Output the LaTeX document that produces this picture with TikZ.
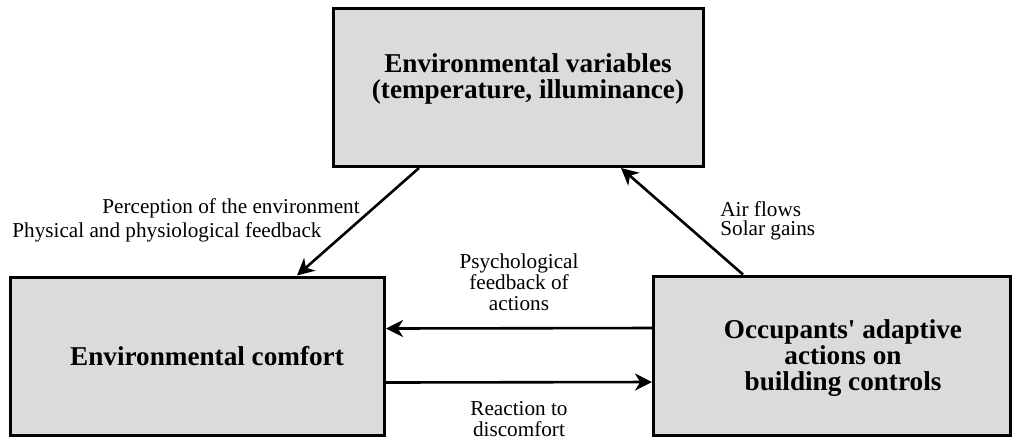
\documentclass[tikz,border=0pt]{standalone}
\usepackage{fontspec}
\setmainfont{Liberation Serif}
\usepackage{tikz}
\usetikzlibrary{arrows.meta}

\definecolor{boxgray}{RGB}{218,219,221}

\begin{document}
\begin{tikzpicture}[x=0.5pt, y=-0.5pt,
  box/.style={draw=black, fill=boxgray, line width=1.5pt, inner sep=0pt},
  boxtext/.style={font=\fontsize{13.6}{12.8}\selectfont\bfseries, align=center, inner sep=0pt},
  lbl/.style={font=\fontsize{10.6}{10.4}\selectfont, inner sep=0pt},
  arr/.style={-{Stealth[length=8.5pt, width=8.5pt, inset=2.6pt]}, line width=1.3pt}]

\useasboundingbox (0,0) rectangle (1016,441);

% the three boxes
\node[box, minimum width=185pt, minimum height=79pt] (varbox) at (518.5,87.5) {};
\node[box, minimum width=187pt, minimum height=79pt] (comfbox) at (197.5,356) {};
\node[box, minimum width=178.5pt, minimum height=79.5pt] (actbox) at (832,355.5) {};

\node[boxtext] (vartext) at (528,79) {Environmental variables\\(temperature, illuminance)};
\node[boxtext] (comftext) at (207,356) {Environmental comfort};
\node[boxtext] (acttext) at (843,358) {Occupants\textquotesingle\ adaptive\\actions on\\building controls};

% connectors
\draw[arr] ([xshift=43.5pt]varbox.south west) -- ([xshift=144pt]comfbox.north west);
\draw[arr] ([xshift=45.5pt]actbox.north west) -- ([xshift=144.5pt]varbox.south west);
\draw[arr] ([yshift=13.75pt]actbox.west) -- ([yshift=13.75pt]comfbox.east);
\draw[arr] ([yshift=-13.25pt]comfbox.east) -- ([yshift=-13.25pt]actbox.west);

% labels
\node[lbl, anchor=west] (percep) at (102,208) {Perception of the environment};
\node[lbl, anchor=west] (physfb) at (12,232) {Physical and physiological feedback};
\node[lbl, anchor=west, align=left, font=\fontsize{10.6}{9.6}\selectfont] (gains) at (720,221) {Air flows\\Solar gains};
\node[lbl, align=center] (psych) at (519,282) {Psychological\\feedback of\\actions};
\node[lbl, align=center] (react) at (519,419) {Reaction to\\discomfort};

\end{tikzpicture}
\end{document}
